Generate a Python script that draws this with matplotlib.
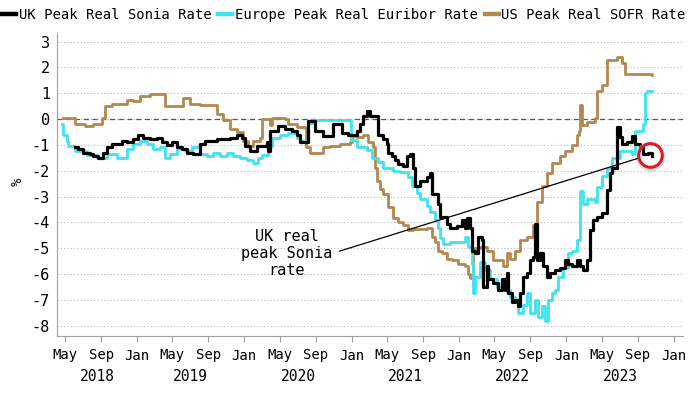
import pandas as pd
import matplotlib
matplotlib.use("Agg")
import matplotlib.pyplot as plt
import matplotlib.dates as mdates
from matplotlib.lines import Line2D

plt.rcParams["font.family"] = ["DejaVu Sans Mono", "DejaVu Sans"]
plt.rcParams["axes.unicode_minus"] = False

# UK Peak Real Sonia Rate
uk_dates = ["2018-06-04", "2018-06-14", "2018-07-01", "2018-07-25", "2018-08-05", "2018-08-22",
            "2018-09-08", "2018-09-22", "2018-10-09", "2018-11-12", "2018-11-29", "2018-12-19",
            "2019-01-06", "2019-01-23", "2019-02-16", "2019-03-09", "2019-03-26", "2019-04-13",
            "2019-04-30", "2019-05-16", "2019-06-03", "2019-06-20", "2019-07-10", "2019-08-03",
            "2019-08-20", "2019-10-01", "2019-11-14", "2019-12-08", "2019-12-25", "2020-01-04",
            "2020-01-21", "2020-02-14", "2020-03-18", "2020-03-21", "2020-03-28", "2020-04-24",
            "2020-05-18", "2020-06-11", "2020-06-28", "2020-07-08", "2020-08-05", "2020-08-29",
            "2020-09-25", "2020-10-29", "2020-11-29", "2020-12-19", "2021-01-20", "2021-01-30",
            "2021-02-09", "2021-02-22", "2021-03-03", "2021-03-20", "2021-03-31", "2021-04-17",
            "2021-04-30", "2021-05-03", "2021-05-17", "2021-05-27", "2021-06-07", "2021-06-24",
            "2021-07-07", "2021-07-17", "2021-07-27", "2021-08-04", "2021-08-21", "2021-09-14",
            "2021-09-24", "2021-10-01", "2021-10-21", "2021-10-28", "2021-11-21", "2021-12-01",
            "2021-12-25", "2022-01-11", "2022-01-22", "2022-01-29", "2022-02-08", "2022-02-14",
            "2022-02-24", "2022-03-05", "2022-03-19", "2022-03-22", "2022-04-05", "2022-04-08",
            "2022-04-25", "2022-05-12", "2022-05-26", "2022-06-05", "2022-06-12", "2022-06-16",
            "2022-06-29", "2022-07-09", "2022-07-19", "2022-07-26", "2022-08-06", "2022-08-20",
            "2022-08-30", "2022-09-09", "2022-09-16", "2022-09-23", "2022-10-03", "2022-10-13",
            "2022-10-27", "2022-11-06", "2022-11-23", "2022-12-10", "2022-12-27", "2023-01-07",
            "2023-01-21", "2023-02-07", "2023-02-17", "2023-02-26", "2023-03-11", "2023-03-21",
            "2023-04-01", "2023-04-17", "2023-05-04", "2023-05-18", "2023-05-28", "2023-06-07",
            "2023-06-21", "2023-07-01", "2023-07-11", "2023-07-28", "2023-08-11", "2023-08-22",
            "2023-09-08", "2023-09-18", "2023-10-05", "2023-10-18"]
uk_vals = [-1.1, -1.15, -1.3, -1.35, -1.45, -1.5,
           -1.3, -1.1, -0.97, -0.85, -0.9, -0.77,
           -0.6, -0.72, -0.77, -0.72, -0.9, -1.0,
           -0.9, -1.1, -1.15, -1.3, -1.35, -0.97,
           -0.85, -0.77, -0.72, -0.6, -0.72, -1.05,
           -1.25, -1.05, -0.9, -1.25, -0.45, -0.27,
           -0.4, -0.45, -0.6, -0.9, -0.07, -0.45,
           -0.65, -0.2, -0.55, -0.6, -0.45, -0.2,
           0.1, 0.3, 0.1, 0.1, -0.6, -0.77,
           -0.97, -1.3, -1.42, -1.6, -1.75, -1.8,
           -1.42, -1.35, -1.9, -2.6, -2.4, -2.25,
           -2.1, -2.9, -3.3, -3.8, -4.05, -4.2,
           -4.15, -3.9, -4.2, -3.85, -4.2, -5.1,
           -5.2, -4.55, -4.7, -6.5, -5.7, -6.2,
           -6.35, -6.6, -6.2, -6.6, -5.95, -6.75,
           -7.1, -7.0, -7.25, -6.75, -6.1, -5.95,
           -5.45, -5.35, -4.05, -5.45, -5.2, -5.7,
           -6.1, -5.95, -5.85, -5.75, -5.45, -5.6,
           -5.7, -5.45, -5.7, -5.85, -5.45, -4.3,
           -3.9, -3.8, -3.65, -2.75, -2.1, -1.9,
           -0.3, -0.7, -0.97, -0.9, -0.65, -0.95,
           -1.1, -1.35, -1.3, -1.42]

# Europe Peak Real Euribor Rate
eu_dates = ["2018-04-21", "2018-04-24", "2018-05-08", "2018-05-11", "2018-06-04", "2018-07-15",
            "2018-08-19", "2018-09-22", "2018-10-26", "2018-11-29", "2018-12-19", "2019-01-12",
            "2019-02-05", "2019-02-26", "2019-03-19", "2019-04-06", "2019-04-23", "2019-05-16",
            "2019-06-13", "2019-07-07", "2019-08-03", "2019-08-27", "2019-09-17", "2019-10-11",
            "2019-11-04", "2019-11-24", "2019-12-18", "2020-01-11", "2020-02-01", "2020-02-17",
            "2020-03-01", "2020-03-21", "2020-04-04", "2020-05-01", "2020-05-28", "2020-06-28",
            "2020-07-08", "2020-08-05", "2020-08-19", "2020-12-26", "2020-12-29", "2021-01-20",
            "2021-02-22", "2021-03-10", "2021-03-31", "2021-04-17", "2021-05-20", "2021-06-14",
            "2021-07-10", "2021-07-24", "2021-08-11", "2021-08-21", "2021-09-14", "2021-09-24",
            "2021-10-11", "2021-10-21", "2021-10-28", "2021-11-07", "2021-12-01", "2022-01-04",
            "2022-01-22", "2022-02-01", "2022-02-14", "2022-02-17", "2022-02-24", "2022-03-12",
            "2022-03-29", "2022-04-15", "2022-05-09", "2022-05-26", "2022-06-12", "2022-06-22",
            "2022-07-09", "2022-07-19", "2022-08-06", "2022-08-20", "2022-08-30", "2022-09-16",
            "2022-09-26", "2022-10-10", "2022-10-20", "2022-10-30", "2022-11-13", "2022-11-23",
            "2022-12-03", "2022-12-20", "2023-01-07", "2023-01-21", "2023-02-07", "2023-02-17",
            "2023-02-26", "2023-03-14", "2023-04-07", "2023-04-14", "2023-05-04", "2023-05-21",
            "2023-06-07", "2023-07-01", "2023-08-11", "2023-08-22", "2023-09-18", "2023-09-25",
            "2023-10-01", "2023-10-21"]
eu_vals = [-0.2, -0.6, -0.85, -1.05, -1.25, -1.4,
           -1.5, -1.35, -1.5, -1.15, -0.95, -0.85,
           -0.95, -1.15, -1.1, -1.5, -1.35, -1.15,
           -1.25, -1.1, -1.35, -1.45, -1.3, -1.45,
           -1.3, -1.45, -1.5, -1.6, -1.7, -1.5,
           -1.4, -1.05, -0.75, -0.6, -0.55, -0.75,
           -0.85, -0.15, -0.05, -0.05, -0.8, -1.1,
           -1.2, -1.5, -1.65, -1.9, -2.0, -2.05,
           -2.25, -2.6, -2.85, -3.1, -3.35, -3.6,
           -3.9, -4.2, -4.6, -4.85, -4.75, -4.75,
           -4.55, -4.95, -5.6, -6.75, -6.1, -5.55,
           -5.85, -6.2, -6.5, -6.25, -6.6, -6.9,
           -7.1, -7.5, -7.2, -6.75, -7.5, -7.0,
           -7.65, -7.25, -7.8, -7.0, -6.75, -6.6,
           -6.1, -5.75, -5.2, -5.1, -4.7, -2.8,
           -3.3, -3.1, -3.2, -2.65, -2.2, -1.9,
           -1.5, -1.25, -1.35, -0.45, -0.2, 1.0,
           1.07, 1.07]

# US Peak Real SOFR Rate
us_dates = ["2018-04-24", "2018-06-04", "2018-07-08", "2018-08-05", "2018-09-05", "2018-09-15",
            "2018-10-09", "2018-11-05", "2018-11-29", "2018-12-19", "2019-01-12", "2019-02-16",
            "2019-03-19", "2019-04-06", "2019-05-03", "2019-06-06", "2019-06-30", "2019-08-03",
            "2019-09-14", "2019-10-01", "2019-10-21", "2019-11-14", "2019-12-08", "2019-12-28",
            "2020-01-14", "2020-02-01", "2020-02-24", "2020-03-01", "2020-03-18", "2020-03-28",
            "2020-04-04", "2020-04-24", "2020-05-18", "2020-05-28", "2020-06-28", "2020-07-25",
            "2020-07-29", "2020-08-12", "2020-09-25", "2020-10-19", "2020-11-22", "2020-12-26",
            "2021-01-03", "2021-01-20", "2021-02-09", "2021-02-25", "2021-03-13", "2021-03-20",
            "2021-03-27", "2021-04-07", "2021-04-17", "2021-05-03", "2021-05-20", "2021-06-07",
            "2021-06-24", "2021-07-10", "2021-07-27", "2021-09-14", "2021-10-01", "2021-10-11",
            "2021-10-21", "2021-11-04", "2021-11-21", "2021-12-08", "2021-12-28", "2022-01-22",
            "2022-02-01", "2022-02-08", "2022-02-17", "2022-03-12", "2022-04-05", "2022-04-25",
            "2022-05-29", "2022-06-12", "2022-06-22", "2022-07-09", "2022-07-26", "2022-08-20",
            "2022-09-09", "2022-09-23", "2022-10-10", "2022-10-27", "2022-11-13", "2022-12-10",
            "2022-12-27", "2023-01-21", "2023-02-07", "2023-02-14", "2023-02-17", "2023-02-22",
            "2023-03-14", "2023-04-07", "2023-04-17", "2023-05-04", "2023-05-18", "2023-05-21",
            "2023-06-21", "2023-07-11", "2023-07-18", "2023-10-21"]
us_vals = [0.05, -0.2, -0.27, -0.2, 0.05, 0.5,
           0.6, 0.6, 0.75, 0.7, 0.9, 0.95,
           0.95, 0.5, 0.5, 0.8, 0.6, 0.55,
           0.55, 0.2, -0.05, -0.4, -0.5, -0.85,
           -1.05, -0.85, -0.75, 0.0, 0.0, -0.25,
           0.05, 0.05, 0.0, -0.2, -0.3, -0.35,
           -1.1, -1.3, -1.1, -1.05, -0.95, -0.9,
           -0.65, -0.7, -0.6, -0.9, -1.1, -1.9,
           -2.4, -2.7, -2.9, -3.4, -3.85, -4.0,
           -4.1, -4.3, -4.25, -4.2, -4.55, -4.75,
           -5.1, -5.2, -5.4, -5.45, -5.6, -5.7,
           -6.0, -6.15, -5.0, -4.95, -5.1, -5.45,
           -5.7, -5.2, -5.4, -5.1, -4.7, -4.55,
           -4.1, -3.2, -2.6, -2.1, -1.7, -1.45,
           -1.25, -1.0, -0.6, -0.45, 0.55, -0.25,
           -0.1, 0.05, 1.1, 1.3, 1.6, 2.3,
           2.4, 2.15, 1.75, 1.72]

legend_labels = ["UK Peak Real Sonia Rate", "Europe Peak Real Euribor Rate", "US Peak Real SOFR Rate"]
colors = ["#000000", "#3fe3ef", "#b3884f"]
years = [2018, 2019, 2020, 2021, 2022, 2023]

fig = plt.figure(figsize=(7, 3.94), dpi=100)
ax = fig.add_axes([57 / 700, 58 / 394, 626 / 700, 303 / 394])

ax.plot(pd.to_datetime(us_dates), us_vals, color=colors[2], lw=2.0, drawstyle="steps-post", zorder=3)
ax.plot(pd.to_datetime(eu_dates), eu_vals, color=colors[1], lw=2.0, drawstyle="steps-post", zorder=3)
ax.plot(pd.to_datetime(uk_dates), uk_vals, color=colors[0], lw=2.3, drawstyle="steps-post", zorder=4)

ax.set_xlim(pd.Timestamp("2018-04-04"), pd.Timestamp("2024-02-02"))
ax.set_ylim(-8.4, 3.33)
ax.set_yticks(range(-8, 4))

# grid
ax.grid(axis="y", ls=(0, (1, 2)), color="#b8b8b8", lw=0.8)
ax.axhline(0, color="#555555", ls=(0, (4, 3)), lw=0.9, zorder=2)

for s in ["top", "right"]:
    ax.spines[s].set_visible(False)
for s in ["left", "bottom"]:
    ax.spines[s].set_color("#a0a0a0")

ax.xaxis.set_major_locator(mdates.MonthLocator(bymonth=[1, 5, 9]))
ax.xaxis.set_major_formatter(mdates.DateFormatter("%b"))
ax.tick_params(axis="x", length=4, color="#a0a0a0", labelsize=10, pad=5)
ax.tick_params(axis="y", length=0, labelsize=11, pad=5)

# year labels centred on the visible part of each year
x0, x1 = ax.get_xlim()
for yr in years:
    a = max(mdates.date2num(pd.Timestamp(f"{yr}-01-01")), x0)
    b = min(mdates.date2num(pd.Timestamp(f"{yr + 1}-01-01")), x1)
    ax.text((a + b) / 2, -0.135, str(yr), transform=ax.get_xaxis_transform(),
            ha="center", va="center", fontsize=10.5)

fig.text(18 / 700, 1 - 182 / 394, "%", rotation=90, ha="center", va="center", fontsize=10)

# annotation
ax.annotate("UK real\npeak Sonia\nrate", xy=(pd.Timestamp("2023-09-08"), -1.5),
            xytext=(pd.Timestamp("2020-05-25"), -5.2), ha="center", va="center",
            fontsize=11, linespacing=1.15,
            arrowprops=dict(arrowstyle="-", color="black", lw=0.9, relpos=(1, 0.5),
                            shrinkA=3, shrinkB=0), zorder=6)

# red circle
ax.plot(pd.Timestamp("2023-10-14"), -1.45, "o", ms=19, mfc="none", mec="#c8c8c8", mew=2.5,
        alpha=0.6, zorder=5)
ax.plot(pd.Timestamp("2023-10-12"), -1.4, "o", ms=17, mfc="none", mec="#d41f26", mew=2.2, zorder=6)

handles = [Line2D([], [], color=c, lw=3.2) for c in colors]
fig.legend(handles, legend_labels, loc="center left", bbox_to_anchor=(0.003, 1 - 15 / 394),
           ncol=3, frameon=False, fontsize=10, handlelength=1.0, handletextpad=0.2,
           columnspacing=0.5, borderpad=0, borderaxespad=0)

fig.savefig("out.png", dpi=100)
